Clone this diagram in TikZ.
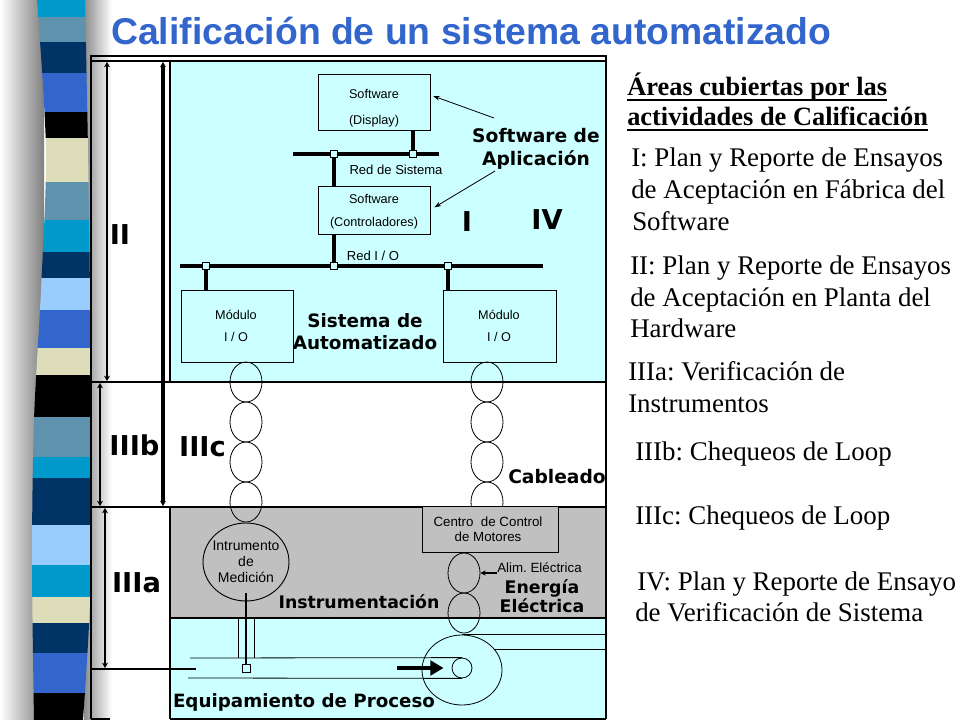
\documentclass[tikz,border=0pt]{standalone}
\usepackage{fontspec}
\setmainfont{Liberation Serif}
\setsansfont{Liberation Sans}
\newfontfamily\heavyfont{DejaVu Sans}
\usetikzlibrary{arrows.meta,shapes.geometric}
\definecolor{titleblue}{HTML}{3366CC}
\definecolor{pale}{HTML}{CCFFFF}
\definecolor{panelgray}{HTML}{C0C0C0}
\definecolor{rcyan}{HTML}{0099CC}
\definecolor{rsteel}{HTML}{5F93AD}
\definecolor{rnavy}{HTML}{003366}
\definecolor{rroyal}{HTML}{3366CC}
\definecolor{rbeige}{HTML}{DDDDB9}
\definecolor{rlight}{HTML}{99CCFF}
\frenchspacing
\tikzset{
  boxnode/.style={draw, line width=0.7pt, fill=pale, inner sep=0pt, minimum width=84pt},
  smalltxt/.style={align=center, inner sep=0pt},
  heavylbl/.style={align=center, inner sep=0pt},
  chainel/.style={draw, ellipse, line width=0.6pt, minimum width=24pt, minimum height=30pt, inner sep=0pt},
  sqnode/.style={draw, fill=pale, minimum size=5.25pt, inner sep=0pt, line width=0.5pt},
  netline/.style={line width=3pt},
  dimarrow/.style={line width=2pt, {Stealth[length=4pt,width=4.5pt]}-{Stealth[length=4pt,width=4.5pt]}},
  thinarrow/.style={line width=0.6pt, -{Stealth[length=5pt,width=3.5pt]}},
  rtext/.style={anchor=base west, inner sep=0pt, font=\fontsize{20.2}{24}\selectfont},
  rhead/.style={anchor=base west, inner sep=0pt, font=\bfseries\fontsize{19.8}{24}\selectfont},
  romanlbl/.style={inner sep=0pt, font=\heavyfont\bfseries\fontsize{20.5}{24}\selectfont}
}
\begin{document}
\begin{tikzpicture}[x=0.75pt,y=-0.75pt]
\useasboundingbox (0,0) rectangle (960,720);
\fill[white] (0,0) rectangle (960,720);
% ribbon shadows
\shade[left color=white, right color=black!50] (0,0) rectangle (44,720);
\shade[left color=black!45, right color=white] (84,0) rectangle (112,720);
% ribbon
\begin{scope}
\clip plot[smooth] coordinates {(37,0) (46,150) (41,290) (34,420) (32,560) (34,720)} -- plot[smooth] coordinates {(83,720) (90,600) (90,450) (90,300) (88,150) (85,0)} -- cycle;
\foreach \a/\b/\c in {0/17/rcyan,17/42/rsteel,42/73/rnavy,73/112/rroyal,112/138/black,138/182/rbeige,182/220/rsteel,220/252/rcyan,252/278/rnavy,278/310/rlight,310/348/rroyal,348/375/rbeige,375/417/black,417/457/rsteel,457/478/rcyan,478/525/rnavy,525/565/rlight,565/597/rcyan,597/623/rbeige,623/653/rnavy,653/693/rroyal,693/721/black}
  \fill[\c] (20,\a) rectangle (100,\b);
\end{scope}
% title
\node[anchor=base west, inner sep=0pt, text=titleblue, font=\sffamily\bfseries\fontsize{28}{30}\selectfont] (title) at (111,45) {Calificación de un sistema automatizado};
% regions
\fill[pale] (170,61) rectangle (605,382);
\fill[panelgray] (170,507) rectangle (605,618);
\fill[pale] (170,618) rectangle (605,719);
% frame and separators
\draw[line width=0.9pt] (91,719) -- (91,56) -- (606,56) -- (606,719);
\draw[line width=0.8pt] (91,61) -- (606,61);
\draw[line width=0.8pt] (170,61) -- (170,382);
\draw[line width=0.8pt] (91,382) -- (606,382);
\draw[line width=0.8pt] (91,507) -- (606,507);
\draw[line width=0.8pt] (170,507) -- (170,719);
\draw[line width=1.6pt] (170,618) -- (605,618);
\draw[line width=0.8pt] (170,719) -- (606,719);
\draw[line width=0.8pt] (91,719) -- (110,719);
\draw[line width=0.8pt] (91,669) -- (196,669);
% dimension arrows
\draw[dimarrow] (107,62) -- (107,381);
\draw[dimarrow, line width=2.4pt] (163,62) -- (163,506);
\draw[dimarrow] (100,383) -- (100,506);
\draw[dimarrow] (105,508) -- (105,668);
% network
\coordinate (rs1) at (293,154);
\coordinate (rs2) at (439,154);
\coordinate (ri1) at (180,266);
\coordinate (ri2) at (543,266);
\draw[netline] (rs1) -- (rs2);
\draw[netline] (ri1) -- (ri2);
\node[boxnode, minimum height=42pt] (disp) at (374,102) {};
\node[boxnode, minimum height=36pt] (ctrl) at (374,210) {};
\node[boxnode, minimum height=54pt] (modL) at (237,326) {};
\node[boxnode, minimum width=84.75pt, minimum height=54pt] (modR) at (499.5,326) {};
\coordinate (s1p) at (334,154);
\coordinate (s2p) at (413,154);
\coordinate (s3p) at (206,266);
\coordinate (s4p) at (334,266);
\coordinate (s5p) at (448,266);
\draw[netline] (s2p |- disp.south) -- (s2p);
\draw[netline] (s1p) -- (s1p |- ctrl.north);
\draw[netline] (s4p |- ctrl.south) -- (s4p);
\draw[netline] (s3p) -- (s3p |- modL.north);
\draw[netline] (s5p) -- (s5p |- modR.north);
\node[sqnode] (s1) at (s1p) {};
\node[sqnode] (s2) at (s2p) {};
\node[sqnode] (s3) at (s3p) {};
\node[sqnode] (s4) at (s4p) {};
\node[sqnode] (s5) at (s5p) {};
\node[smalltxt, font=\sffamily\fontsize{9.5}{19.5}\selectfont] (disptxt) at (374,108) {Software\\(Display)};
\node[smalltxt, font=\sffamily\fontsize{9.5}{17.25}\selectfont] (ctrltxt) at (374,211.5) {Software\\(Controladores)};
\node[smalltxt, font=\sffamily\fontsize{9.5}{16.5}\selectfont] (modLtxt) at (236,326) {Módulo\\I / O};
\node[smalltxt, font=\sffamily\fontsize{9.5}{16.5}\selectfont] (modRtxt) at (499,326) {Módulo\\I / O};
\node[smalltxt, font=\sffamily\fontsize{9.8}{12}\selectfont] (rstxt) at (396,170) {Red de Sistema};
\node[smalltxt, font=\sffamily\fontsize{9.8}{12}\selectfont] (riotxt) at (373,256) {Red I / O};
% software de aplicacion
\node[heavylbl, font=\heavyfont\bfseries\fontsize{14}{17.25}\selectfont] (swapp) at (536,148.5) {Software de\\Aplicación};
\coordinate (a1) at (494,118);
\coordinate (a2) at (495,171);
\draw[thinarrow] (a1) -- ([yshift=4.5pt,xshift=2pt]disp.east);
\draw[thinarrow] (a2) -- ([yshift=2pt,xshift=3pt]ctrl.east);
\node[heavylbl, font=\heavyfont\bfseries\fontsize{13.8}{16.5}\selectfont] (sisaut) at (365,332) {Sistema de\\Automatizado};
% cabling chains
\foreach \n/\y in {1/382,2/422,3/462,4/502} {
  \node[chainel] (cl\n) at (246,\y) {};
  \node[chainel] (cr\n) at (487,\y) {};
}
\node[draw, line width=0.7pt, fill=panelgray, minimum width=102pt, minimum height=34.5pt, inner sep=0pt] (ccm) at (490,529) {};
\node[smalltxt, font=\sffamily\fontsize{10}{11.25}\selectfont] (ccmtxt) at (488,529.5) {Centro\ \ de Control\\de Motores};
\node[chainel] (ce1) at (464,573) {};
\node[chainel] (ce2) at (464,613) {};
% instrument
\node[draw, ellipse, line width=0.7pt, fill=panelgray, minimum width=64.5pt, minimum height=58.5pt, inner sep=0pt] (instr) at (246,562) {};
\node[smalltxt, font=\sffamily\fontsize{10.5}{12}\selectfont] (instrtxt) at (246,562) {Intrumento\\de\\Medición};
% process equipment
\node[draw, ellipse, line width=0.6pt, minimum width=60pt, minimum height=52.5pt, inner sep=0pt] (motor) at (462,670) {};
\node[draw, circle, line width=0.6pt, minimum size=15pt, inner sep=0pt] (sc) at (462,668) {};
\coordinate (p1) at (190,658);
\coordinate (p2) at (188,678);
\draw[line width=0.6pt] (p1) -- (sc.north);
\draw[line width=0.6pt] (p2) -- (sc.south);
\coordinate (redge) at (605,0);
\draw[line width=0.6pt] (motor.north) -- (motor.north -| redge);
\draw[line width=0.6pt] (motor.33) -- (motor.33 -| redge);
\coordinate (fa) at (397,668);
\draw[line width=3.6pt, -{Triangle[length=10pt,width=11pt]}] (fa) -- ([xshift=-6pt]sc.west);
\draw[line width=0.6pt] (238,618) -- (238,658);
\draw[line width=0.6pt] (254,618) -- (254,658);
\node[sqnode, minimum size=6pt] (tap) at (246,668) {};
\coordinate (stem) at (246,593);
\draw[line width=2.2pt] (stem) -- (tap.north);
% alim
\node[anchor=west, inner sep=0pt, font=\sffamily\fontsize{10}{12}\selectfont] (alim) at (497,568) {Alim. Eléctrica};
\draw[line width=1.5pt, -{Stealth[length=4pt,width=4pt]}] (alim.west |- ce1.east) -- (ce1.east);
% labels
\node[heavylbl, font=\heavyfont\bfseries\fontsize{13}{14.25}\selectfont] (energ) at (542,596.5) {Energía\\Eléctrica};
\node[heavylbl, font=\heavyfont\bfseries\fontsize{14}{16}\selectfont] (cab) at (557,477) {Cableado};
\node[heavylbl, font=\heavyfont\bfseries\fontsize{13}{16}\selectfont] (inst) at (359,602) {Instrumentación};
\node[heavylbl, font=\heavyfont\bfseries\fontsize{13.7}{16}\selectfont] (equip) at (304,702) {Equipamiento de Proceso};
\node[romanlbl] (lII) at (120,235) {II};
\node[romanlbl] (lIIIb) at (134.5,445) {IIIb};
\node[romanlbl] (lIIIc) at (202.5,447) {IIIc};
\node[romanlbl] (lIIIa) at (136.5,583) {IIIa};
\node[romanlbl] (lI) at (467,222) {I};
\node[romanlbl] (lIV) at (547,220) {IV};
% right-hand text
\node[rhead] (h1) at (627,96) {Áreas cubiertas por las};
\node[rhead] (h2) at (627,126) {actividades de Calificación};
\draw[line width=1.3pt] ([yshift=-3pt]h1.base west) -- ([yshift=-3pt]h1.base east);
\draw[line width=1.3pt] ([yshift=-3pt]h2.base west) -- ([yshift=-3pt]h2.base east);
\node[rtext] (r1) at (631,167) {I: Plan y Reporte de Ensayos};
\node[rtext] (r2) at (631,199) {de Aceptación en Fábrica del};
\node[rtext] (r3) at (632,231) {Software};
\node[rtext] (r4) at (630,275) {II: Plan y Reporte de Ensayos};
\node[rtext] (r5) at (630,306) {de Aceptación en Planta del};
\node[rtext] (r6) at (630,337) {Hardware};
\node[rtext] (r7) at (628,380) {IIIa: Verificación de};
\node[rtext] (r8) at (628,412) {Instrumentos};
\node[rtext] (r9) at (635,460) {IIIb: Chequeos de Loop};
\node[rtext] (r10) at (635,524) {IIIc: Chequeos de Loop};
\node[rtext] (r11) at (637,590) {IV: Plan y Reporte de Ensayo};
\node[rtext] (r12) at (635,621) {de Verificación de Sistema};
\end{tikzpicture}
\end{document}
